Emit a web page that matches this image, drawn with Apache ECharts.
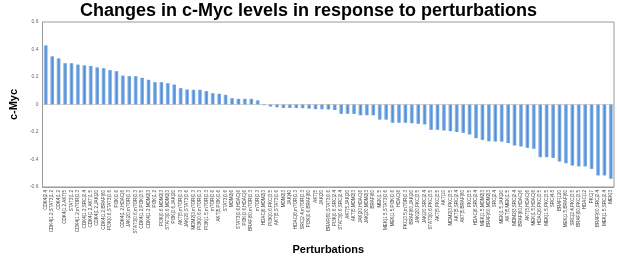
<!DOCTYPE html>
<html>
<head>
<meta charset="utf-8">
<script src="https://cdn.jsdelivr.net/npm/echarts@6/dist/echarts.min.js"></script>
<style>
  html, body { margin: 0; padding: 0; background: #fff; }
  #chart { width: 617px; height: 260px; }
</style>
</head>
<body>
<div id="chart"></div>
<script>
// Perturbations (x categories)
const perturbations = [
  'CDK4|2.4', 'CDK4|1.2,STAT3|1.2', 'CDK4|1.2', 'CDK4|1.2,AKT|5', 'STAT3|1.2',
  'CDK4|1.2,mTOR|0.3', 'CDK4|1.2,SRC|2.4', 'CDK4|1.2,AKT|1.5', 'CDK4|1.2,JAK|20', 'CDK4|1.2,BRAF|60',
  'PI3K|0.6,STAT3|0.6', 'PI3K|0.6', 'CDK4|1.2,HDAC|6', 'JAK|20,mTOR|0.3', 'STAT3|0.6,mTOR|0.3',
  'CDK4|1.2,PI3K|3.5', 'CDK4|1.2,MDM2|3', 'PI3K|1.2', 'PI3K|0.6,MDM2|3', 'STAT3|0.6,MDM2|3',
  'PI3K|0.6,JAK|20', 'AKT|5,mTOR|0.3', 'JAK|20,STAT3|0.6', 'MDM2|3,mTOR|0.3', 'PI3K|0.6,mTOR|0.3',
  'PI3K|1.5,mTOR|0.3', 'mTOR|0.6', 'AKT|5,PI3K|0.6', 'STAT3|0.6', 'MDM2|6',
  'STAT3|0.6,HDAC|6', 'PI3K|0.6,HDAC|6', 'BRAF|60,mTOR|0.3', 'mTOR|0.3', 'HDAC|6,MDM2|3',
  'PI3K|0.6,PKC|3.5', 'AKT|5,STAT3|0.6', 'MDM2|3', 'JAK|40', 'HDAC|6,mTOR|0.3',
  'SRC|2.4,mTOR|0.3', 'PI3K|0.6,BRAF|60', 'AKT|5', 'JAK|20', 'BRAF|60,STAT3|0.6',
  'PI3K|0.6,SRC|2.4', 'STAT3|0.6,SRC|2.4', 'AKT|5,JAK|20', 'AKT|5,MDM2|3', 'JAK|20,HDAC|6',
  'JAK|20,MDM2|3', 'BRAF|60', 'MEK|1.5', 'MEK|1.5,STAT3|0.6', 'MEK|1.5,PI3K|0.6',
  'HDAC|6', 'PKC|3.5,mTOR|0.3', 'BRAF|60,JAK|20', 'JAK|20,PKC|3.5', 'JAK|20,SRC|2.4',
  'STAT3|0.6,PKC|3.5', 'AKT|5,PKC|3.5', 'AKT|10', 'MDM2|3,PKC|3.5', 'AKT|5,SRC|2.4',
  'AKT|5,BRAF|60', 'PKC|3.5', 'HDAC|6,SRC|2.4', 'MEK|1.5,MDM2|3', 'BRAF|60,MDM2|3',
  'SRC|2.4', 'MEK|1.5,JAK|20', 'AKT|5,MEK|1.5', 'MDM2|3,SRC|2.4', 'BRAF|60,HDAC|6',
  'AKT|5,HDAC|6', 'MEK|1.5,HDAC|6', 'HDAC|6,PKC|3.5', 'MEK|1.5,PKC|3.5', 'SRC|4.8',
  'BRAF|120', 'MEK|1.5,BRAF|60', 'SRC|2.4,PKC|3.5', 'BRAF|60,PKC|3.5', 'HDAC|12',
  'PKC|7', 'BRAF|60,SRC|2.4', 'MEK|1.5,SRC|2.4', 'MEK|3'
];

// Change in c-Myc for each perturbation
const cMyc = [
  0.43, 0.35, 0.335, 0.30, 0.30, 0.29, 0.285, 0.28, 0.27, 0.264,
  0.25, 0.242, 0.21, 0.206, 0.206, 0.194, 0.18, 0.162, 0.162, 0.155,
  0.145, 0.119, 0.109, 0.107, 0.107, 0.097, 0.082, 0.078, 0.07, 0.046,
  0.041, 0.041, 0.041, 0.03, -0.005, -0.015, -0.02, -0.025, -0.025, -0.025,
  -0.027, -0.03, -0.034, -0.034, -0.036, -0.04, -0.068, -0.068, -0.068, -0.078,
  -0.078, -0.078, -0.11, -0.11, -0.133, -0.133, -0.133, -0.136, -0.14, -0.145,
  -0.184, -0.184, -0.189, -0.194, -0.2, -0.206, -0.218, -0.245, -0.257, -0.267,
  -0.269, -0.27, -0.28, -0.298, -0.305, -0.315, -0.322, -0.383, -0.383, -0.388,
  -0.415, -0.427, -0.444, -0.45, -0.45, -0.468, -0.516, -0.516, -0.54
];

// y axis range
const yMin = -0.6;
const yMax = 0.6;
const yStep = 0.2;

const chart = echarts.init(document.getElementById('chart'));

// dégradé façon "cylindre" des barres
const barColor = new echarts.graphic.LinearGradient(0, 0, 1, 0, [
  { offset: 0, color: '#a9c9ef' },
  { offset: 0.55, color: '#4d8cd6' },
  { offset: 1, color: '#8db6e8' }
]);

chart.setOption({
  animation: false,
  title: {
    text: 'Changes in c-Myc levels in response to perturbations',
    left: 'center',
    top: -3,
    textStyle: {
      fontFamily: 'Liberation Sans',
      fontWeight: 900,
      fontSize: 18,
      color: '#000'
    }
  },
  grid: {
    left: 26,
    right: 3,
    top: 22,
    bottom: 72,
    show: true,
    borderColor: '#9a9a9a',
    borderWidth: 1
  },
  xAxis: {
    type: 'category',
    data: perturbations,
    name: 'Perturbations',
    nameLocation: 'middle',
    nameGap: 57,
    nameTextStyle: {
      fontFamily: 'Liberation Sans',
      fontWeight: 'bold',
      fontSize: 11,
      color: '#000'
    },
    axisLine: { onZero: false, lineStyle: { color: '#9a9a9a' } },
    axisTick: { show: false },
    axisLabel: {
      interval: 0,
      rotate: 90,
      fontSize: 4.6,
      color: '#444',
      margin: 3,
      fontFamily: 'Liberation Sans'
    }
  },
  yAxis: {
    type: 'value',
    min: yMin,
    max: yMax,
    interval: yStep,
    name: 'c-Myc',
    nameLocation: 'middle',
    nameGap: 13,
    nameTextStyle: {
      fontFamily: 'Liberation Sans',
      fontWeight: 'bold',
      fontSize: 11,
      color: '#000'
    },
    axisLine: { show: true, lineStyle: { color: '#9a9a9a' } },
    axisTick: { show: false },
    splitLine: { show: false },
    axisLabel: {
      fontSize: 5,
      color: '#666',
      margin: 4,
      fontFamily: 'Liberation Sans',
      formatter: v => (Math.abs(v) < 1e-9 ? '0' : String(Math.round(v * 10) / 10))
    }
  },
  series: [{
    type: 'bar',
    data: cMyc,
    barWidth: 3.8,
    itemStyle: { color: barColor },
    markLine: {
      silent: true,
      symbol: 'none',
      label: { show: false },
      lineStyle: { color: '#aaa', type: 'dotted', width: 1 },
      data: [{ yAxis: 0 }]
    }
  }]
});
</script>
</body>
</html>
